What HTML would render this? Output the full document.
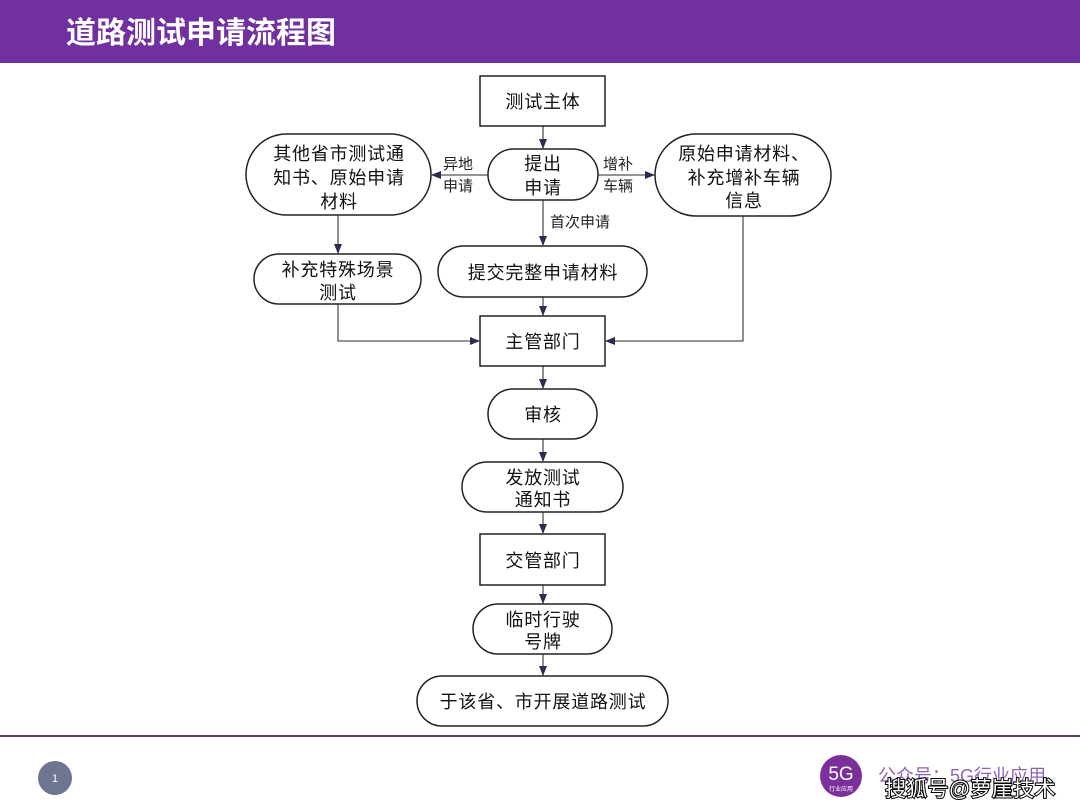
<!DOCTYPE html>
<html><head><meta charset="utf-8"><style>
html,body{margin:0;padding:0;background:#fff;}
svg{display:block;}
text{font-family:"Liberation Sans","Noto Sans CJK SC",sans-serif;}
</style></head><body>
<svg width="1080" height="810" viewBox="0 0 1080 810" xmlns="http://www.w3.org/2000/svg">
<defs>
<marker id="ah" markerWidth="10" markerHeight="10" refX="9" refY="5" orient="auto" markerUnits="userSpaceOnUse">
<path d="M0,1 L10,5 L0,9 Z" fill="#2b2d4f"/>
</marker>
</defs>
<rect x="0" y="0" width="1080" height="63" fill="#7030a0"/>
<text x="66" y="43" font-size="30" font-weight="600" fill="#fff" letter-spacing="0">道路测试申请流程图</text>

<g fill="none" stroke="#555" stroke-width="1.3">
<line x1="543" y1="126" x2="543" y2="148" marker-end="url(#ah)"/>
<line x1="488" y1="175" x2="432" y2="175" marker-end="url(#ah)"/>
<line x1="598" y1="175" x2="654" y2="175" marker-end="url(#ah)"/>
<line x1="543" y1="200" x2="543" y2="245" marker-end="url(#ah)"/>
<line x1="338" y1="215" x2="338" y2="253" marker-end="url(#ah)"/>
<polyline points="338,304 338,341 479,341" marker-end="url(#ah)"/>
<polyline points="743,216 743,341 606,341" marker-end="url(#ah)"/>
<line x1="543" y1="297" x2="543" y2="315" marker-end="url(#ah)"/>
<line x1="543" y1="366" x2="543" y2="388" marker-end="url(#ah)"/>
<line x1="543" y1="439" x2="543" y2="461" marker-end="url(#ah)"/>
<line x1="543" y1="512" x2="543" y2="533" marker-end="url(#ah)"/>
<line x1="543" y1="585" x2="543" y2="603" marker-end="url(#ah)"/>
<line x1="543" y1="654" x2="543" y2="675" marker-end="url(#ah)"/>
</g>

<g fill="#fff" stroke="#222" stroke-width="1.5">
<rect x="480" y="76" width="125" height="50"/>
<rect x="488" y="149" width="110" height="51" rx="25.5"/>
<rect x="246" y="134" width="185" height="81" rx="40.5"/>
<rect x="655" y="134" width="176" height="82" rx="41"/>
<rect x="254" y="254" width="167" height="50" rx="25"/>
<rect x="438" y="246" width="209" height="51" rx="25.5"/>
<rect x="480" y="316" width="125" height="50"/>
<rect x="488" y="389" width="109" height="50" rx="25"/>
<rect x="462" y="462" width="161" height="50" rx="25"/>
<rect x="480" y="534" width="125" height="51"/>
<rect x="473" y="604" width="139" height="50" rx="25"/>
<rect x="417" y="676" width="251" height="50" rx="25"/>
</g>

<g fill="#111" font-size="18" text-anchor="middle" letter-spacing="0.8">
<text x="543" y="108">测试主体</text>
<text x="543" y="170">提出</text>
<text x="543" y="194">申请</text>
<text x="339" y="160">其他省市测试通</text>
<text x="339" y="184">知书、原始申请</text>
<text x="339" y="208">材料</text>
<text x="744" y="160">原始申请材料、</text>
<text x="744" y="184">补充增补车辆</text>
<text x="744" y="207">信息</text>
<text x="338" y="276">补充特殊场景</text>
<text x="338" y="299">测试</text>
<text x="543" y="279">提交完整申请材料</text>
<text x="543" y="348">主管部门</text>
<text x="543" y="421">审核</text>
<text x="543" y="484">发放测试</text>
<text x="543" y="506">通知书</text>
<text x="543" y="567">交管部门</text>
<text x="543" y="626">临时行驶</text>
<text x="543" y="648">号牌</text>
<text x="543" y="708">于该省、市开展道路测试</text>
</g>

<g fill="#222" font-size="15">
<text x="443" y="169">异地</text>
<text x="443" y="191">申请</text>
<text x="603" y="169">增补</text>
<text x="603" y="191">车辆</text>
<text x="550" y="227">首次申请</text>
</g>

<rect x="0" y="735" width="1080" height="2" fill="#5e3d72"/>
<circle cx="55" cy="778" r="17" fill="#6d7590"/>
<text x="55" y="782" font-size="11" fill="#fff" text-anchor="middle">1</text>

<circle cx="841" cy="776" r="21" fill="#7b2f9a"/>
<text x="841" y="780" font-size="19" fill="#fff" text-anchor="middle">5G</text>
<text x="841" y="791" font-size="6" fill="#fff" text-anchor="middle">行业应用</text>
<text x="878" y="782" font-size="18" fill="#8f62b6">公众号：5G行业应用</text>
<text x="885" y="796" font-size="21" fill="#fff" stroke="#000" stroke-width="2" paint-order="stroke" letter-spacing="0.3">搜狐号@萝崖技术</text>
</svg>
</body></html>
